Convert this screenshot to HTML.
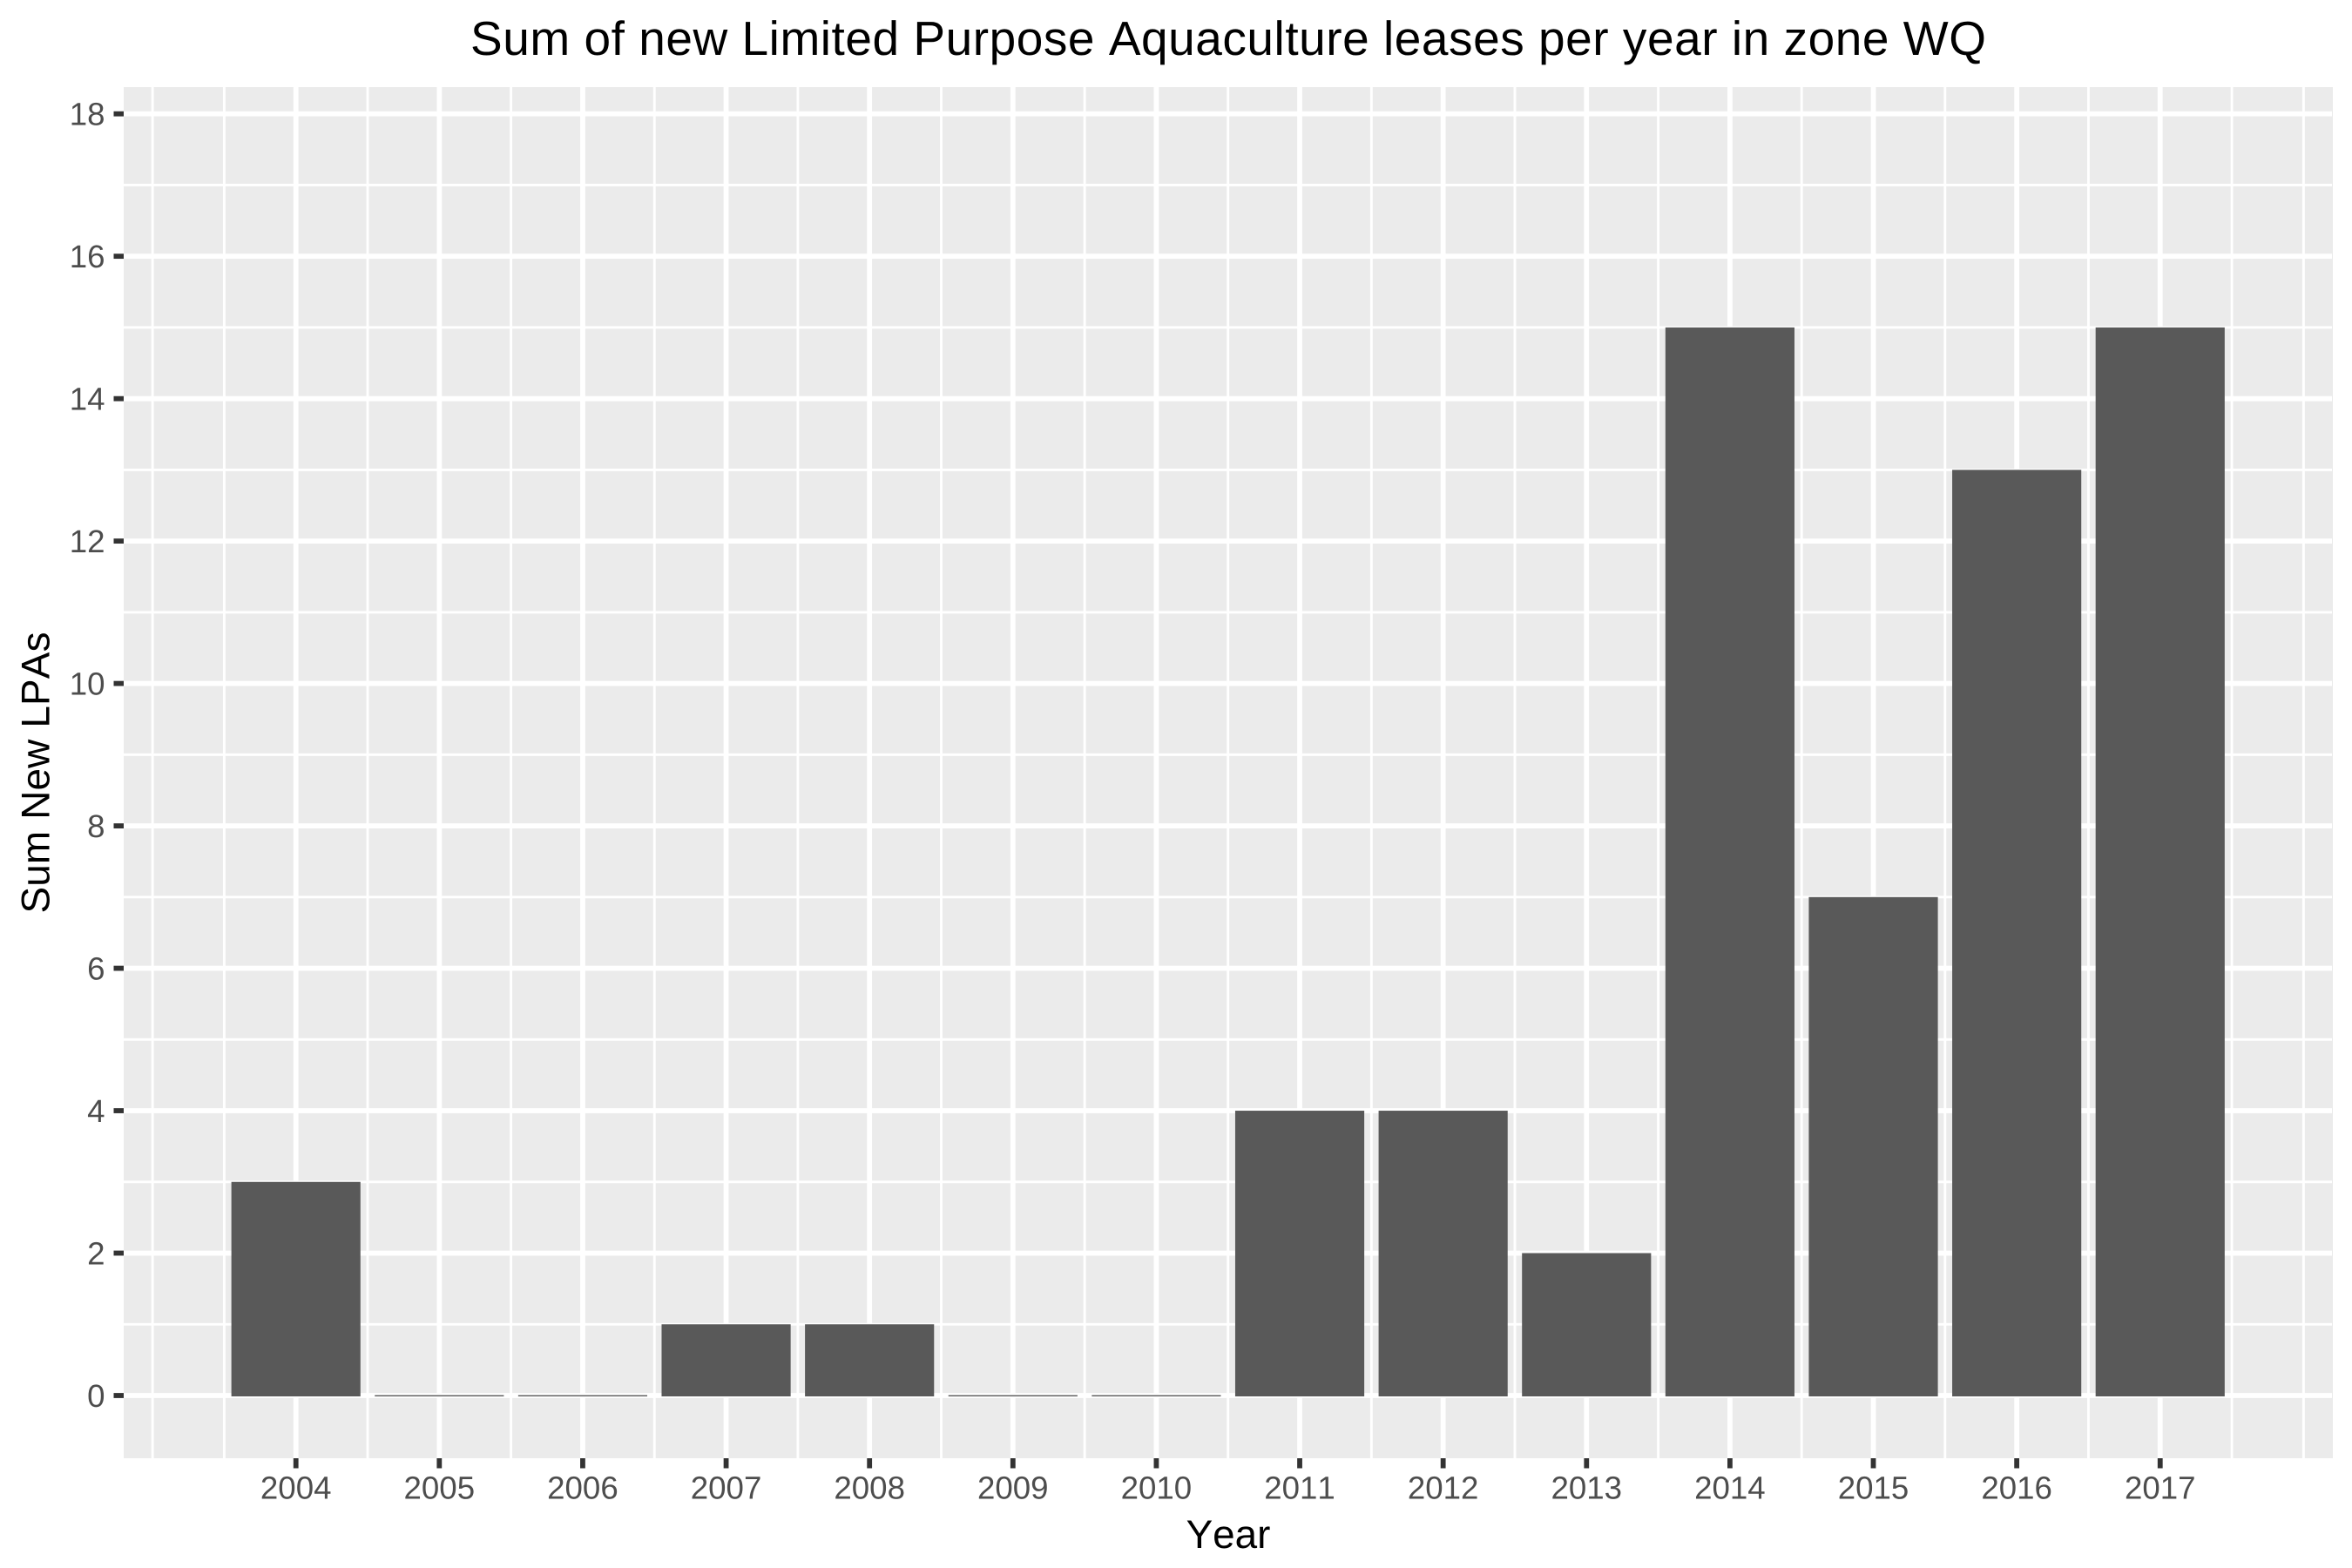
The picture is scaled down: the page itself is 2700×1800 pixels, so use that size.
<!DOCTYPE html>
<html lang="en">
<head>
<meta charset="utf-8">
<title>Sum of new Limited Purpose Aquaculture leases per year in zone WQ</title>
<style>
html,body{margin:0;padding:0;background:#fff;width:2700px;height:1800px;overflow:hidden}
svg{display:block}
text{font-family:"Liberation Sans",Arial,sans-serif;text-rendering:geometricPrecision;font-kerning:none}
</style>
</head>
<body>
<svg id="chart" xmlns="http://www.w3.org/2000/svg" width="2700" height="1800" viewBox="0 0 2700 1800">
<rect x="0" y="0" width="2700" height="1800" fill="#ffffff"></rect>
<defs><clipPath id="panel-clip"><rect x="142" y="100" width="2536" height="1574"></rect></clipPath></defs>
<rect x="142" y="100" width="2536" height="1574" fill="#EBEBEB"></rect>
<g id="grid" clip-path="url(#panel-clip)"></g>
<g id="bars"></g>
<g id="axes"></g>
<text x="1410" y="63" text-anchor="middle" font-size="55" fill="#000" textLength="1740" lengthAdjust="spacing">Sum of new Limited Purpose Aquaculture leases per year in zone WQ</text>
<text x="1410" y="1777" text-anchor="middle" font-size="45.83" fill="#000">Year</text>
<text transform="translate(56.5,887) rotate(-90)" text-anchor="middle" font-size="45.83" fill="#000" textLength="323" lengthAdjust="spacing">Sum New LPAs</text>
</svg>
<script>
var years = [2004,2005,2006,2007,2008,2009,2010,2011,2012,2013,2014,2015,2016,2017];
var sumNewLpas = [3,0,0,1,1,0,0,4,4,2,15,7,13,15];
var yTicks = [0,2,4,6,8,10,12,14,16,18];
var yMinorTicks = [1,3,5,7,9,11,13,15,17];
var xMinorTicks = [2003,2003.5,2004.5,2005.5,2006.5,2007.5,2008.5,2009.5,2010.5,2011.5,2012.5,2013.5,2014.5,2015.5,2016.5,2017.5,2018];

var NS = 'http://www.w3.org/2000/svg';
var PANEL = {left:142, right:2678, top:100, bottom:1674};

function xScale(year){ return 339.7 + (year - 2004) * 164.62; }
function yScale(v){ return 1602 - v * 81.74; }

function rect(parent, x, y, w, h, fill){
  var r = document.createElementNS(NS, 'rect');
  r.setAttribute('x', x);
  r.setAttribute('y', y);
  r.setAttribute('width', w);
  r.setAttribute('height', h);
  r.setAttribute('fill', fill);
  parent.appendChild(r);
  return r;
}
function label(parent, x, y, anchor, str){
  var t = document.createElementNS(NS, 'text');
  t.setAttribute('x', x);
  t.setAttribute('y', y);
  t.setAttribute('text-anchor', anchor);
  t.setAttribute('font-size', '36.67');
  t.setAttribute('fill', '#4D4D4D');
  t.textContent = str;
  parent.appendChild(t);
  return t;
}

var grid = document.getElementById('grid');
var bars = document.getElementById('bars');
var axes = document.getElementById('axes');
var el, i;

for (i = 0; i < yMinorTicks.length; i++) {
  el = rect(grid, PANEL.left, yScale(yMinorTicks[i]) - 1.45, PANEL.right - PANEL.left - 1, 2.9, '#ffffff');
  
  
}
for (i = 0; i < xMinorTicks.length; i++) {
  el = rect(grid, xScale(xMinorTicks[i]) - 1.45, PANEL.top, 2.9, PANEL.bottom - PANEL.top, '#ffffff');
  
  
}
for (i = 0; i < yTicks.length; i++) {
  el = rect(grid, PANEL.left, yScale(yTicks[i]) - 2.9, PANEL.right - PANEL.left - 1, 5.8, '#ffffff');
  
  
}
for (i = 0; i < years.length; i++) {
  el = rect(grid, xScale(years[i]) - 2.9, PANEL.top, 5.8, PANEL.bottom - PANEL.top, '#ffffff');
  
  
}

var barWidth = 0.9 * 164.62;
for (i = 0; i < years.length; i++) {
  var barTop = yScale(sumNewLpas[i]);
  var barBase = yScale(0) + 1;
  var barHeight = barBase - barTop;
  if (sumNewLpas[i] === 0) { barTop = barBase - 1.4; barHeight = 1.4; }
  el = rect(bars, xScale(years[i]) - barWidth / 2, barTop, barWidth, barHeight, '#595959');
  
  
}

for (i = 0; i < yTicks.length; i++) {
  el = rect(axes, 130.5, yScale(yTicks[i]) - 2.9, 11.5, 5.8, '#333333');
  
  
  el = label(axes, 120.5, yScale(yTicks[i]) + 13, 'end', String(yTicks[i]));
  
  
}
for (i = 0; i < years.length; i++) {
  el = rect(axes, xScale(years[i]) - 2.9, 1674, 5.8, 11.5, '#333333');
  
  
  el = label(axes, xScale(years[i]), 1720.5, 'middle', String(years[i]));
  
  
}
</script>
</body>
</html>
